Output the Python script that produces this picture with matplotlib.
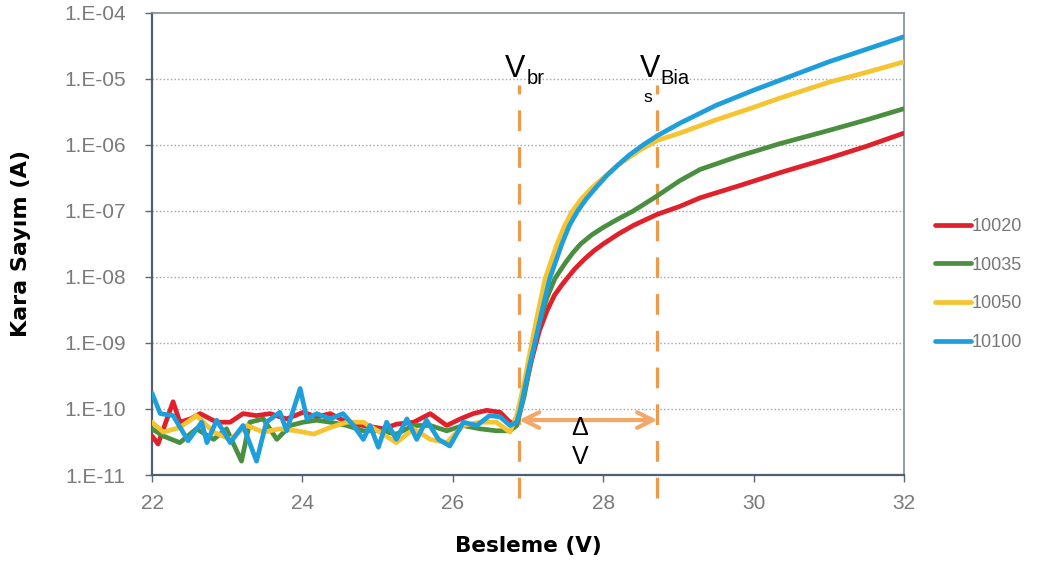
import matplotlib
matplotlib.use('Agg')
import matplotlib.pyplot as plt
import numpy as np

plt.rcParams['font.family'] = ['Liberation Sans', 'DejaVu Sans']

# Besleme (V) ve log10(Kara Sayım) değerleri
v_10020 = [22.00, 22.08, 22.28, 22.37, 22.51, 22.64, 22.86, 23.04, 23.21, 23.39, 23.57, 23.79,
           24.01, 24.19, 24.37, 24.59, 24.81, 25.08, 25.25, 25.48, 25.70, 25.92, 26.10, 26.27,
           26.45, 26.63, 26.76, 26.85, 26.95, 27.05, 27.15, 27.25, 27.35, 27.45, 27.52, 27.62,
           27.75, 27.88, 28.00, 28.20, 28.40, 28.72, 29.02, 29.29, 29.80, 30.35, 31.00, 31.50, 32.00]
log_10020 = [-10.41, -10.53, -9.89, -10.20, -10.15, -10.07, -10.20, -10.20, -10.07, -10.10, -10.07, -10.15,
             -10.05, -10.12, -10.07, -10.20, -10.25, -10.30, -10.23, -10.20, -10.07, -10.25, -10.15, -10.07,
             -10.02, -10.05, -10.20, -10.20, -9.75, -9.25, -8.82, -8.52, -8.28, -8.12, -8.02, -7.88,
             -7.73, -7.60, -7.50, -7.35, -7.22, -7.05, -6.93, -6.80, -6.62, -6.42, -6.20, -6.02, -5.82]

v_10035 = [22.00, 22.15, 22.37, 22.59, 22.82, 22.99, 23.19, 23.30, 23.48, 23.66, 23.84, 24.01,
           24.19, 24.37, 24.59, 24.81, 25.03, 25.25, 25.48, 25.70, 25.92, 26.14, 26.36, 26.58,
           26.76, 26.85, 26.95, 27.05, 27.15, 27.25, 27.36, 27.50, 27.60, 27.70, 27.85, 28.00,
           28.20, 28.40, 28.72, 29.02, 29.29, 29.80, 30.35, 31.00, 31.50, 32.00]
log_10035 = [-10.30, -10.41, -10.51, -10.30, -10.46, -10.30, -10.79, -10.20, -10.15, -10.46, -10.25, -10.20,
             -10.17, -10.20, -10.25, -10.33, -10.33, -10.38, -10.25, -10.25, -10.33, -10.25, -10.30, -10.33,
             -10.33, -10.25, -9.80, -9.20, -8.70, -8.32, -8.02, -7.78, -7.63, -7.50, -7.36, -7.25,
             -7.12, -7.00, -6.77, -6.54, -6.37, -6.17, -5.98, -5.78, -5.62, -5.45]

v_10050 = [22.00, 22.15, 22.37, 22.59, 22.82, 23.04, 23.26, 23.48, 23.70, 23.92, 24.15, 24.37,
           24.59, 24.81, 25.03, 25.25, 25.48, 25.70, 25.92, 26.14, 26.36, 26.58, 26.76, 26.85,
           26.95, 27.05, 27.14, 27.23, 27.38, 27.48, 27.58, 27.70, 27.85, 28.00, 28.20, 28.50,
           28.72, 29.02, 29.50, 30.00, 30.35, 31.00, 31.50, 32.00]
log_10050 = [-10.20, -10.35, -10.28, -10.10, -10.35, -10.46, -10.25, -10.35, -10.30, -10.33, -10.38, -10.28,
             -10.20, -10.20, -10.35, -10.51, -10.30, -10.46, -10.51, -10.25, -10.20, -10.20, -10.35, -10.10,
             -9.60, -9.00, -8.50, -8.02, -7.52, -7.24, -7.02, -6.83, -6.65, -6.50, -6.30, -6.07,
             -5.93, -5.82, -5.62, -5.43, -5.29, -5.05, -4.90, -4.74]

v_10100 = [22.00, 22.11, 22.28, 22.48, 22.66, 22.73, 22.86, 23.04, 23.21, 23.39, 23.52, 23.70,
           23.79, 23.97, 24.06, 24.19, 24.37, 24.54, 24.68, 24.81, 24.90, 25.01, 25.12, 25.25,
           25.39, 25.52, 25.65, 25.81, 25.96, 26.14, 26.32, 26.49, 26.63, 26.76, 26.85, 26.90,
           27.00, 27.09, 27.20, 27.29, 27.45, 27.55, 27.66, 27.78, 27.90, 28.05, 28.20, 28.35,
           28.53, 28.72, 29.02, 29.50, 30.00, 30.35, 31.00, 31.50, 32.00]
log_10100 = [-9.76, -10.07, -10.10, -10.48, -10.20, -10.51, -10.17, -10.51, -10.25, -10.79, -10.20, -10.05,
             -10.33, -9.69, -10.15, -10.07, -10.15, -10.07, -10.25, -10.46, -10.25, -10.58, -10.20, -10.46,
             -10.15, -10.46, -10.17, -10.46, -10.56, -10.20, -10.25, -10.10, -10.12, -10.25, -10.20, -10.00,
             -9.45, -9.00, -8.45, -8.02, -7.50, -7.22, -7.00, -6.81, -6.65, -6.46, -6.30, -6.15,
             -6.00, -5.86, -5.67, -5.40, -5.17, -5.02, -4.74, -4.55, -4.36]

series = [
    ('10020', v_10020, log_10020, '#e0202a'),
    ('10035', v_10035, log_10035, '#4a8f3f'),
    ('10050', v_10050, log_10050, '#f5c431'),
    ('10100', v_10100, log_10100, '#1e9fdc'),
]

y_ticks = [1e-11, 1e-10, 1e-9, 1e-8, 1e-7, 1e-6, 1e-5, 1e-4]
y_tick_labels = ['1.E-11', '1.E-10', '1.E-09', '1.E-08', '1.E-07', '1.E-06', '1.E-05', '1.E-04']
x_ticks = [22, 24, 26, 28, 30, 32]

v_br = 26.88
v_bias = 28.72

fig = plt.figure(figsize=(10.37, 5.62), dpi=100)
ax = fig.add_axes([0.1466, 0.1548, 0.7251, 0.8221])

# ızgara
for yt in y_ticks[1:-1]:
    ax.axhline(yt, color='#9aa5b5', linestyle=':', linewidth=1.0, zorder=1)

for name, v, lg, col in series:
    ax.plot(v, 10 ** np.array(lg), color=col, linewidth=3.4, label=name,
            solid_capstyle='round', solid_joinstyle='round', zorder=3)

ax.set_yscale('log')
ax.set_xlim(22, 32)
ax.set_ylim(1e-11, 1e-4)
ax.set_yticks(y_ticks)
ax.set_yticklabels(y_tick_labels)
ax.minorticks_off()
ax.set_xticks(x_ticks)
ax.set_xticklabels([str(t) for t in x_ticks])
ax.tick_params(axis='both', colors='#5a6a7a', labelcolor='#7a7a7a', labelsize=15,
               direction='out', length=5, width=1)
ax.tick_params(axis='y', pad=14)
ax.tick_params(axis='x', pad=9)

for side in ['left', 'bottom']:
    ax.spines[side].set_color('#4f6072')
    ax.spines[side].set_linewidth(1.6)
for side in ['top', 'right']:
    ax.spines[side].set_color('#7f8c99')
    ax.spines[side].set_linewidth(1.2)

ax.set_xlabel('Besleme (V)', fontsize=15.5, fontweight='bold', family='DejaVu Sans', labelpad=16)
ax.set_ylabel('Kara Sayım (A)', fontsize=16, fontweight='bold', family='DejaVu Sans', labelpad=24)

# kesikli dikey çizgiler
for xv in [v_br, v_bias]:
    ax.plot([xv, xv], [4.5e-12, 8e-6], color='#ee9a4d', linewidth=2.3, dashes=(6.5, 5),
            clip_on=False, zorder=2)

# ΔV oku
ax.annotate('', xy=(v_br, 6.8e-11), xytext=(v_bias, 6.8e-11),
            arrowprops=dict(arrowstyle='<->', color='#f3a868', lw=3, mutation_scale=28,
                            shrinkA=0, shrinkB=0), zorder=2)
ax.text(27.69, 5.2e-11, 'Δ', fontsize=18, ha='center', va='center')
ax.text(27.69, 1.9e-11, 'V', fontsize=18, ha='center', va='center')

ax.text(26.83, 1.4e-5, 'V', fontsize=22, ha='center', va='center')
ax.text(26.98, 1.0e-5, 'br', fontsize=14.5, ha='left', va='center')
ax.text(28.62, 1.4e-5, 'V', fontsize=22, ha='center', va='center')
ax.text(28.76, 1.0e-5, 'Bia', fontsize=14.5, ha='left', va='center')
ax.text(28.6, 5.2e-6, 's', fontsize=12.5, ha='center', va='center')

fig.legend(loc='center left', bbox_to_anchor=(0.886, 0.494), frameon=False,
           fontsize=13, handlelength=2.0, handletextpad=0.05, labelspacing=1.2,
           labelcolor='#777777')

fig.savefig('out.png', dpi=100)
